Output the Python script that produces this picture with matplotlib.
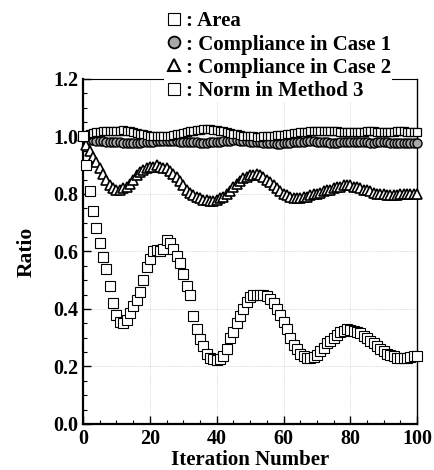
import matplotlib.pyplot as plt
from matplotlib.lines import Line2D
from matplotlib.ticker import MultipleLocator

plt.rcParams['font.family'] = ['Liberation Serif', 'DejaVu Serif']
plt.rcParams['font.weight'] = 'bold'

iterations = list(range(101))

area = [1.00, 1.005, 1.01, 1.012, 1.015, 1.015, 1.018, 1.02, 1.02, 1.02,
        1.018, 1.02, 1.022, 1.02, 1.018, 1.015, 1.012, 1.01, 1.008, 1.005,
        1.003, 1.002, 1.0, 1.0, 1.0, 1.002, 1.003, 1.005, 1.008, 1.01,
        1.012, 1.015, 1.018, 1.02, 1.022, 1.024, 1.025, 1.025, 1.025, 1.024,
        1.022, 1.02, 1.018, 1.015, 1.012, 1.01, 1.008, 1.005, 1.003, 1.002,
        1.0, 1.0, 0.998, 0.998, 1.0, 1.0, 1.002, 1.003, 1.005, 1.005,
        1.006, 1.008, 1.01, 1.012, 1.013, 1.015, 1.016, 1.017, 1.018, 1.018,
        1.02, 1.02, 1.02, 1.02, 1.02, 1.018, 1.018, 1.016, 1.015, 1.015,
        1.014, 1.014, 1.015, 1.016, 1.017, 1.018, 1.018, 1.018, 1.017, 1.016,
        1.016, 1.015, 1.016, 1.017, 1.018, 1.018, 1.018, 1.017, 1.016, 1.015,
        1.015]

comp_case1 = [1.00, 0.99, 0.988, 0.986, 0.985, 0.984, 0.983, 0.982, 0.981, 0.98,
              0.98, 0.979, 0.978, 0.978, 0.977, 0.977, 0.978, 0.978, 0.979, 0.98,
              0.981, 0.982, 0.983, 0.984, 0.985, 0.985, 0.985, 0.984, 0.983, 0.982,
              0.981, 0.98, 0.98, 0.979, 0.979, 0.978, 0.978, 0.978, 0.979, 0.98,
              0.981, 0.982, 0.983, 0.984, 0.985, 0.986, 0.986, 0.985, 0.984, 0.983,
              0.982, 0.981, 0.98, 0.979, 0.978, 0.977, 0.976, 0.976, 0.975, 0.975,
              0.976, 0.977, 0.978, 0.979, 0.98, 0.981, 0.982, 0.983, 0.983, 0.983,
              0.982, 0.981, 0.98, 0.979, 0.978, 0.978, 0.978, 0.979, 0.98, 0.981,
              0.982, 0.982, 0.982, 0.981, 0.98, 0.979, 0.978, 0.978, 0.979, 0.98,
              0.98, 0.979, 0.978, 0.977, 0.977, 0.976, 0.976, 0.976, 0.976, 0.976,
              0.976]

comp_case2 = [1.00, 0.97, 0.95, 0.93, 0.91, 0.89, 0.87, 0.85, 0.83, 0.82,
              0.815, 0.815, 0.82, 0.825, 0.835, 0.85, 0.865, 0.875, 0.885, 0.89,
              0.895, 0.895, 0.90, 0.895, 0.89, 0.89, 0.88, 0.87, 0.86, 0.845,
              0.83, 0.815, 0.805, 0.795, 0.79, 0.785, 0.78, 0.78, 0.775, 0.775,
              0.78, 0.785, 0.79, 0.80, 0.81, 0.825, 0.835, 0.845, 0.855, 0.86,
              0.865, 0.865, 0.87, 0.865, 0.86, 0.85, 0.84, 0.83, 0.82, 0.81,
              0.80, 0.795, 0.79, 0.785, 0.785, 0.785, 0.79, 0.79, 0.795, 0.80,
              0.80, 0.805, 0.81, 0.815, 0.815, 0.82, 0.825, 0.825, 0.83, 0.83,
              0.83, 0.825, 0.825, 0.82, 0.815, 0.815, 0.81, 0.805, 0.80, 0.80,
              0.80, 0.795, 0.795, 0.795, 0.795, 0.80, 0.80, 0.80, 0.80, 0.80,
              0.80]

norm_m3 = [1.00, 0.90, 0.81, 0.74, 0.68, 0.63, 0.58, 0.54, 0.48, 0.42,
           0.38, 0.355, 0.35, 0.36, 0.385, 0.41, 0.43, 0.46, 0.50, 0.545,
           0.575, 0.60, 0.605, 0.60, 0.61, 0.64, 0.63, 0.61, 0.585, 0.56,
           0.52, 0.48, 0.45, 0.375, 0.33, 0.295, 0.27, 0.245, 0.23, 0.225,
           0.222, 0.225, 0.235, 0.26, 0.30, 0.32, 0.35, 0.375, 0.40, 0.425,
           0.44, 0.45, 0.45, 0.45, 0.45, 0.445, 0.435, 0.42, 0.40, 0.38,
           0.355, 0.33, 0.30, 0.275, 0.26, 0.245, 0.235, 0.23, 0.228, 0.232,
           0.24, 0.255, 0.265, 0.28, 0.29, 0.30, 0.31, 0.32, 0.325, 0.33,
           0.328, 0.325, 0.32, 0.315, 0.305, 0.30, 0.29, 0.28, 0.27, 0.26,
           0.255, 0.245, 0.24, 0.235, 0.23, 0.228, 0.23, 0.23, 0.232, 0.235,
           0.235]

labels = [': Area', ': Compliance in Case 1', ': Compliance in Case 2', ': Norm in Method 3']

fig = plt.figure(figsize=(4.35, 4.7), dpi=100)
ax = fig.add_axes([0.191, 0.098, 0.768, 0.734])

ax.plot(iterations, comp_case1, 'o', ms=6.5, mfc='#a8a8a8', mec='black', mew=1.0, clip_on=False, zorder=3)
ax.plot(iterations, area, 's', ms=5.5, mfc='white', mec='black', mew=0.9, clip_on=False, zorder=4)
ax.plot(iterations, comp_case2, '^', ms=7.5, mfc='white', mec='black', mew=1.2, clip_on=False, zorder=3)
ax.plot(iterations, norm_m3, 's', ms=7.5, mfc='white', mec='black', mew=0.8, clip_on=False, zorder=5)

ax.set_xlim(0, 100)
ax.set_ylim(0, 1.2)
ax.xaxis.set_major_locator(MultipleLocator(20))
ax.xaxis.set_minor_locator(MultipleLocator(5))
ax.yaxis.set_major_locator(MultipleLocator(0.2))
ax.yaxis.set_minor_locator(MultipleLocator(0.05))
ax.yaxis.set_major_formatter(plt.FormatStrFormatter('%.1f'))
ax.tick_params(which='both', direction='in', top=False, right=False, labelsize=14.5)
ax.tick_params(which='major', length=6, width=1)
ax.tick_params(which='minor', length=3, width=0.8)
ax.grid(True, which='major', linestyle=':', linewidth=0.5, color='#bbbbbb')
ax.spines['left'].set_linewidth(1.6)
ax.spines['bottom'].set_linewidth(1.6)
ax.spines['top'].set_linewidth(0.8)
ax.spines['right'].set_linewidth(1.0)

ax.set_xlabel('Iteration Number', fontsize=15, fontweight='bold', labelpad=1)
ax.set_ylabel('Ratio', fontsize=15.5, fontweight='bold', labelpad=12)

handles = [
    Line2D([], [], ls='none', marker='s', ms=8.5, mfc='white', mec='black', mew=0.8),
    Line2D([], [], ls='none', marker='o', ms=8.5, mfc='#a8a8a8', mec='black', mew=1.3),
    Line2D([], [], ls='none', marker='^', ms=8.5, mfc='white', mec='black', mew=1.5),
    Line2D([], [], ls='none', marker='s', ms=8.5, mfc='white', mec='black', mew=0.8),
]
leg = ax.legend(handles, labels, loc='upper left', bbox_to_anchor=(154 / 435, 1.0),
                bbox_transform=fig.transFigure, frameon=True, facecolor='white',
                edgecolor='none', framealpha=1, fancybox=False, handlelength=0.8,
                handletextpad=0.2, labelspacing=0.15, borderpad=0.05, prop={'size': 15, 'weight': 'bold'})
leg.set_zorder(10)

fig.savefig('out.png', dpi=100)
